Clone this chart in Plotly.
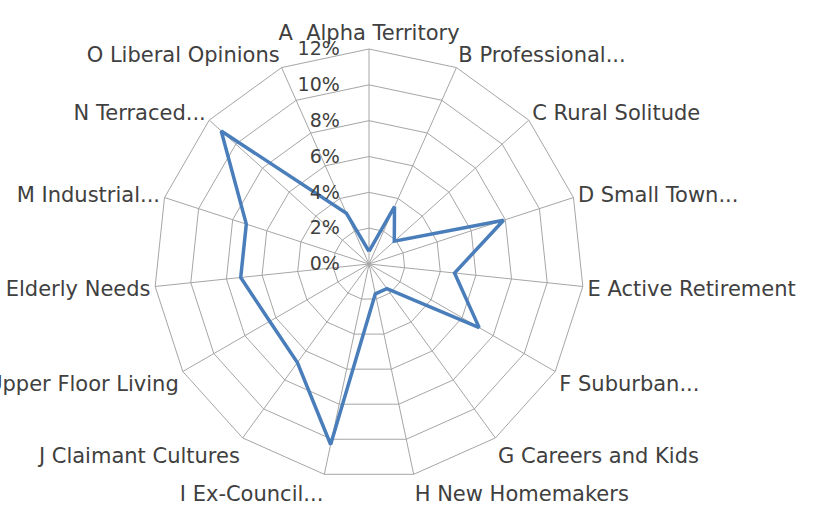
import plotly.graph_objects as go

categories = [
    "A  Alpha Territory", "B Professional...", "C Rural Solitude", "D Small Town...",
    "E Active Retirement", "F Suburban...", "G Careers and Kids", "H New Homemakers",
    "I Ex-Council...", "J Claimant Cultures", "K Upper Floor Living", "L Elderly Needs",
    "M Industrial...", "N Terraced...", "O Liberal Opinions",
]
values = [0.007, 0.035, 0.019, 0.079, 0.048, 0.071, 0.017, 0.017,
          0.103, 0.068, 0.064, 0.072, 0.072, 0.111, 0.031]
radial_ticks = [0, 0.02, 0.04, 0.06, 0.08, 0.10, 0.12]

fig = go.Figure()
fig.add_trace(go.Scatterpolar(
    r=values + values[:1],
    theta=categories + categories[:1],
    mode="lines",
    line=dict(color="#4A7EBB", width=3.5),
    showlegend=False,
))

W, H = 817, 508
cx, cy, R = 369, 264, 215
FONT = "'DejaVu Sans', 'Open Sans', sans-serif"
FS = 21
fig.update_layout(
    width=W, height=H,
    margin=dict(l=0, r=0, t=0, b=0),
    paper_bgcolor="white",
    font=dict(family=FONT, size=FS, color="#404040"),
    polar=dict(
        domain=dict(x=[(cx - R) / W, (cx + R) / W], y=[(H - cy - R) / H, (H - cy + R) / H]),
        bgcolor="white",
        gridshape="linear",
        angularaxis=dict(
            type="category",
            categoryorder="array",
            categoryarray=categories,
            direction="clockwise",
            rotation=90,
            showline=True,
            linecolor="#a6a6a6",
            linewidth=1,
            gridcolor="#a6a6a6",
            gridwidth=1,
            ticks="",
            tickfont=dict(family=FONT, size=FS, color="#404040"),
        ),
        radialaxis=dict(
            range=[0, 0.12],
            tickvals=radial_ticks,
            tickformat=".0%",
            angle=90,
            side="counterclockwise",
            showline=False,
            gridcolor="#a6a6a6",
            gridwidth=1,
            ticks="outside",
            ticklen=22,
            tickcolor="rgba(0,0,0,0)",
            tickangle=90,
            tickfont=dict(family=FONT, size=19, color="#404040"),
        ),
    ),
)

fig.write_html("out.html", config={"displayModeBar": False},
               post_script="document.body.style.margin='0px';")
